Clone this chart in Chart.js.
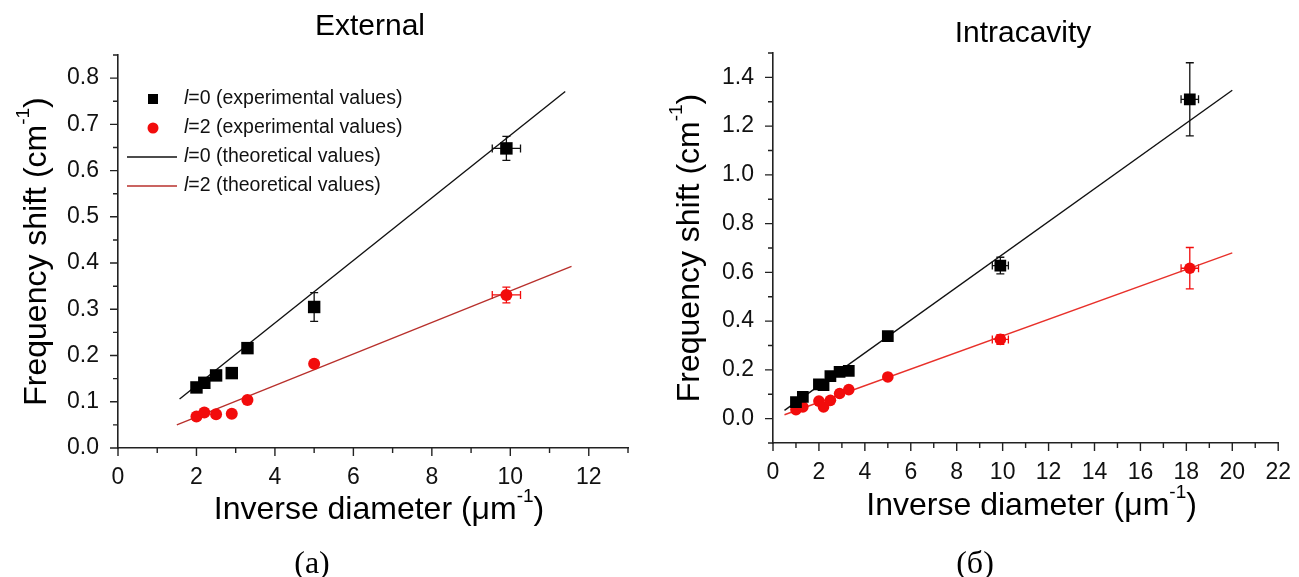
<!DOCTYPE html>
<html>
<head>
<meta charset="utf-8">
<script src="https://cdn.jsdelivr.net/npm/chart.js@4.4.1/dist/chart.umd.min.js"></script>
<style>
  body { margin: 0; background: #fff; }
  .panel { position: absolute; top: 0; }
</style>
</head>
<body>
<div class="panel" style="left:0"><canvas id="external" width="650" height="577"></canvas></div>
<div class="panel" style="left:650px"><canvas id="intracavity" width="649" height="577"></canvas></div>
<script>
const FONT = '"Liberation Sans", Arial, sans-serif';

// External coupling: inverse diameter (1/um) vs frequency shift (1/cm)
const extX = [2.0, 2.2, 2.5, 2.9, 3.3, 5.0, 9.9];
const extL0 = [0.131, 0.141, 0.157, 0.162, 0.216, 0.305, 0.648];
const extL2 = [0.068, 0.077, 0.073, 0.074, 0.104, 0.182, 0.331];
const extErrX = [0, 0, 0, 0, 0, 0, 0.36];
const extL0ErrY = [0, 0, 0, 0, 0, 0.031, 0.026];
const extL2ErrY = [0, 0, 0, 0, 0, 0, 0.017];
const extFit0X = [1.57, 11.4];
const extFit0Y = [0.106, 0.771];
const extFit2X = [1.5, 11.56];
const extFit2Y = [0.050, 0.393];
const extXTicks = [0, 2, 4, 6, 8, 10, 12];
const extYTicks = [0, 0.1, 0.2, 0.3, 0.4, 0.5, 0.6, 0.7, 0.8];

// Intracavity coupling
const intX = [1.0, 1.3, 2.0, 2.2, 2.5, 2.9, 3.3, 5.0, 9.9, 18.15];
const intL0 = [0.068, 0.089, 0.141, 0.137, 0.174, 0.192, 0.196, 0.338, 0.628, 1.31];
const intL2 = [0.037, 0.048, 0.072, 0.048, 0.075, 0.103, 0.119, 0.171, 0.325, 0.617];
const intErrX = [0, 0, 0, 0, 0, 0, 0, 0, 0.35, 0.38];
const intL0ErrY = [0, 0, 0, 0, 0, 0, 0, 0, 0.034, 0.15];
const intL2ErrY = [0, 0, 0, 0, 0, 0, 0, 0.012, 0.02, 0.085];
const intFit0X = [0.5, 20.0];
const intFit0Y = [0.034, 1.347];
const intFit2X = [0.5, 20.0];
const intFit2Y = [0.016, 0.68];
const intXTicks = [0, 2, 4, 6, 8, 10, 12, 14, 16, 18, 20, 22];
const intYTicks = [0, 0.2, 0.4, 0.6, 0.8, 1.0, 1.2, 1.4];

const legendLabels = [
  '=0 (experimental values)',
  '=2 (experimental values)',
  '=0 (theoretical values)',
  '=2 (theoretical values)'
];

const toPoints = (xs, ys) => xs.map((x, i) => ({ x: x, y: ys[i] }));

// draw a row of text pieces with different fonts / baseline shifts
function drawRuns(ctx, runs, x, y, align) {
  let total = 0;
  runs.forEach(r => { ctx.font = r.font; r.w = ctx.measureText(r.text).width; total += r.w; });
  let cx = align === 'center' ? x - total / 2 : x;
  ctx.textAlign = 'left';
  runs.forEach(r => {
    ctx.font = r.font;
    ctx.fillText(r.text, cx, y + (r.dy || 0));
    cx += r.w;
  });
}

function axisTitle(main, sup, close, size) {
  return [
    { text: main, font: size + 'px ' + FONT },
    { text: sup, font: Math.round(size * 0.6) + 'px ' + FONT, dy: -size * 0.42 },
    { text: close, font: size + 'px ' + FONT }
  ];
}

const decor = {
  id: 'decor',
  beforeDatasetsDraw(chart) {
    const { ctx, scales: { x, y } } = chart;
    chart.data.datasets.forEach(ds => {
      if (!ds.errY) return;
      ctx.save();
      ctx.strokeStyle = ds.errColor;
      ctx.lineWidth = 1.3;
      ds.data.forEach((p, j) => {
        const px = x.getPixelForValue(p.x);
        const py = y.getPixelForValue(p.y);
        const ey = ds.errY[j], ex = ds.errX[j];
        ctx.beginPath();
        if (ey) {
          const t = y.getPixelForValue(p.y + ey), b = y.getPixelForValue(p.y - ey);
          ctx.moveTo(px, t); ctx.lineTo(px, b);
          ctx.moveTo(px - 4, t); ctx.lineTo(px + 4, t);
          ctx.moveTo(px - 4, b); ctx.lineTo(px + 4, b);
        }
        if (ex) {
          const l = x.getPixelForValue(p.x - ex), r = x.getPixelForValue(p.x + ex);
          ctx.moveTo(l, py); ctx.lineTo(r, py);
          ctx.moveTo(l, py - 4); ctx.lineTo(l, py + 4);
          ctx.moveTo(r, py - 4); ctx.lineTo(r, py + 4);
        }
        ctx.stroke();
      });
      ctx.restore();
    });
  },
  afterDraw(chart, args, opts) {
    const { ctx, chartArea: area, scales: { x, y } } = chart;
    ctx.save();
    ctx.strokeStyle = '#222';
    ctx.lineWidth = 1.4;
    ctx.fillStyle = '#000';

    // major and minor tick marks, pointing outwards
    ctx.beginPath();
    for (let v = x.min; v <= x.max + 1e-9; v += opts.xMinor) {
      const px = x.getPixelForValue(v);
      const major = Math.abs(v / opts.xMajor - Math.round(v / opts.xMajor)) < 1e-6;
      ctx.moveTo(px, area.bottom); ctx.lineTo(px, area.bottom + (major ? 8 : 5));
    }
    for (let v = y.min; v <= y.max + 1e-9; v += opts.yMinor) {
      const py = y.getPixelForValue(v);
      const major = Math.abs(v / opts.yMajor - Math.round(v / opts.yMajor)) < 1e-6;
      ctx.moveTo(area.left, py); ctx.lineTo(area.left - (major ? 8 : 5), py);
    }
    ctx.stroke();

    // panel title
    ctx.textBaseline = 'alphabetic';
    ctx.font = '30px ' + FONT;
    ctx.textAlign = 'center';
    ctx.fillText(opts.title, opts.titleX, opts.titleY);

    // axis titles
    ctx.textBaseline = 'middle';
    drawRuns(ctx, axisTitle('Inverse diameter (\u03bcm', '-1', ')', 32),
      (area.left + area.right) / 2 + 6, opts.xTitleY, 'center');
    ctx.save();
    ctx.translate(opts.yTitleX, (area.top + area.bottom) / 2);
    ctx.rotate(-Math.PI / 2);
    drawRuns(ctx, axisTitle('Frequency shift (cm', '-1', ')', 32), 0, 0, 'center');
    ctx.restore();

    // panel letter
    ctx.font = '32px "Liberation Serif", "Times New Roman", serif';
    ctx.textAlign = 'center';
    ctx.fillText(opts.letter, opts.letterX, opts.letterY);

    // legend
    const lg = opts.legend;
    legendLabels.forEach((label, i) => {
      const ry = lg.y + i * lg.dy;
      if (i === 0) {
        ctx.fillStyle = '#000';
        ctx.fillRect(lg.markX - 5, ry - 5, 10, 10);
      } else if (i === 1) {
        ctx.fillStyle = opts.red;
        ctx.beginPath(); ctx.arc(lg.markX, ry, 5.5, 0, Math.PI * 2); ctx.fill();
      } else {
        ctx.strokeStyle = i === 2 ? '#111' : opts.redLine;
        ctx.lineWidth = 1.4;
        ctx.beginPath(); ctx.moveTo(lg.lineX0, ry); ctx.lineTo(lg.lineX1, ry); ctx.stroke();
      }
      ctx.fillStyle = '#111';
      drawRuns(ctx, [
        { text: 'l', font: 'italic 19.5px ' + FONT },
        { text: label, font: '19.5px ' + FONT }
      ], lg.textX, ry, 'left');
    });
    ctx.restore();
  }
};

function makeChart(id, cfg) {
  const sq = { pointStyle: 'rect', pointRadius: cfg.sqR, backgroundColor: '#000', borderColor: '#000', borderWidth: 0, showLine: false, order: 0 };
  const dot = { pointStyle: 'circle', pointRadius: cfg.dotR, backgroundColor: cfg.red, borderColor: cfg.red, borderWidth: 0, showLine: false, order: 0 };
  const line = { showLine: true, pointRadius: 0, borderWidth: 1.4, fill: false, order: 1 };
  return new Chart(document.getElementById(id), {
    type: 'scatter',
    data: {
      datasets: [
        Object.assign({ label: 'l=0 (experimental values)', data: toPoints(cfg.xs, cfg.l0),
          errX: cfg.errX, errY: cfg.l0ErrY, errColor: '#111' }, sq),
        Object.assign({ label: 'l=2 (experimental values)', data: toPoints(cfg.xs, cfg.l2),
          errX: cfg.errX, errY: cfg.l2ErrY, errColor: cfg.red }, dot),
        Object.assign({ label: 'l=0 (theoretical values)', data: toPoints(cfg.fit0X, cfg.fit0Y),
          borderColor: '#111' }, line),
        Object.assign({ label: 'l=2 (theoretical values)', data: toPoints(cfg.fit2X, cfg.fit2Y),
          borderColor: cfg.redLine }, line)
      ]
    },
    options: {
      responsive: false,
      animation: false,
      layout: { padding: cfg.padding },
      plugins: {
        legend: { display: false },
        tooltip: { enabled: false },
        decor: cfg.decor
      },
      scales: {
        x: {
          type: 'linear', min: cfg.xMin, max: cfg.xMax,
          afterBuildTicks: s => { s.ticks = cfg.xTicks.map(v => ({ value: v })); },
          afterFit: s => { s.height = cfg.xAxisH; },
          grid: { display: false },
          border: { display: true, color: '#222', width: 1.6 },
          ticks: { autoSkip: false, maxRotation: 0, padding: 8, color: '#111',
            font: { family: FONT, size: 23 } }
        },
        y: {
          type: 'linear', min: cfg.yMin, max: cfg.yMax,
          afterBuildTicks: s => { s.ticks = cfg.yTicks.map(v => ({ value: v })); },
          afterFit: s => { s.width = cfg.yAxisW; },
          grid: { display: false },
          border: { display: true, color: '#222', width: 1.6 },
          ticks: { autoSkip: false, padding: 11, color: '#111',
            font: { family: FONT, size: 23 }, callback: v => v.toFixed(1) }
        }
      }
    },
    plugins: [decor]
  });
}

makeChart('external', {
  xs: extX, l0: extL0, l2: extL2, errX: extErrX, l0ErrY: extL0ErrY, l2ErrY: extL2ErrY,
  fit0X: extFit0X, fit0Y: extFit0Y, fit2X: extFit2X, fit2Y: extFit2Y,
  xTicks: extXTicks, yTicks: extYTicks,
  xMin: 0, xMax: 13, yMin: 0, yMax: 0.85,
  padding: { left: 0, right: 22, top: 55, bottom: 0 },
  yAxisW: 118, xAxisH: 129,
  sqR: 8.8, dotR: 6, red: '#f20c0c', redLine: '#b8302c',
  decor: {
    xMajor: 2, xMinor: 1, yMajor: 0.1, yMinor: 0.05,
    title: 'External', titleX: 370, titleY: 35,
    xTitleY: 510, yTitleX: 37,
    letter: '(a)', letterX: 312, letterY: 565,
    red: '#f20c0c', redLine: '#b8302c',
    legend: { markX: 153, textX: 184, y: 99, dy: 29, lineX0: 127, lineX1: 177 }
  }
});

makeChart('intracavity', {
  xs: intX, l0: intL0, l2: intL2, errX: intErrX, l0ErrY: intL0ErrY, l2ErrY: intL2ErrY,
  fit0X: intFit0X, fit0Y: intFit0Y, fit2X: intFit2X, fit2Y: intFit2Y,
  xTicks: intXTicks, yTicks: intYTicks,
  xMin: 0, xMax: 22, yMin: -0.1, yMax: 1.5,
  padding: { left: 0, right: 14, top: 53, bottom: 0 },
  yAxisW: 123, xAxisH: 134,
  sqR: 8.3, dotR: 5.8, red: '#f20c0c', redLine: '#e8302a',
  decor: {
    xMajor: 2, xMinor: 1, yMajor: 0.2, yMinor: 0.1,
    title: 'Intracavity', titleX: 373, titleY: 42,
    xTitleY: 506, yTitleX: 40,
    letter: '(\u0431)', letterX: 325, letterY: 565,
    red: '#f20c0c', redLine: '#e8302a',
    legend: { markX: 808, textX: 838, y: 99, dy: 28.5, lineX0: 782, lineX1: 833 }
  }
});
</script>
</body>
</html>
